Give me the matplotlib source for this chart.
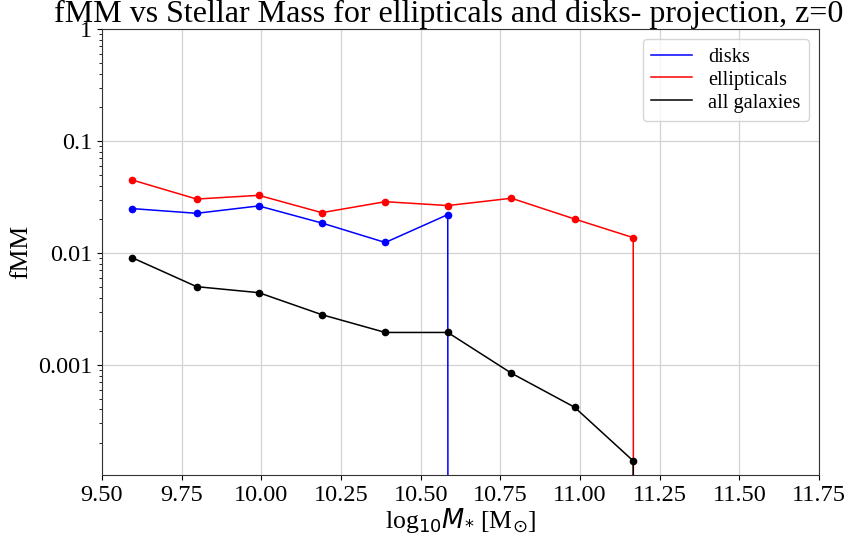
import matplotlib
matplotlib.use('Agg')
import matplotlib.pyplot as plt
import matplotlib.ticker as ticker
import numpy as np

plt.rcParams['font.family'] = ['Liberation Serif', 'DejaVu Serif']

# bin centres of log10 stellar mass
mass_bins = [9.594, 9.797, 9.992, 10.190, 10.389, 10.585, 10.785, 10.983, 11.167, 11.37]
# merger fraction per bin (0 where the bin is empty)
fmm_disks = [0.0249, 0.0226, 0.0263, 0.0185, 0.0124, 0.0220, 0, 0, 0, 0]
fmm_ellipticals = [0.0449, 0.0303, 0.0327, 0.0229, 0.0287, 0.0265, 0.0308, 0.0201, 0.0137, 0]
fmm_all = [0.00909, 0.00500, 0.00442, 0.00281, 0.00195, 0.00195, 0.000843, 0.000419, 0.000139, 0]

ytick_vals = [1, 0.1, 0.01, 0.001]
ytick_labels = ['1', '0.1', '0.01', '0.001']

fig = plt.figure(figsize=(8.48, 5.41), dpi=100)
ax = fig.add_axes([102 / 848, 1 - 475 / 541, 717 / 848, 446 / 541])

series = [(fmm_disks, 'b', 'disks'),
          (fmm_ellipticals, 'r', 'ellipticals'),
          (fmm_all, 'k', 'all galaxies')]
for vals, col, name in series:
    ax.plot(mass_bins, vals, color=col, lw=1.1, label=name)
    ax.plot(mass_bins, vals, color=col, marker='o', ms=4.5, ls='none')

ax.set_yscale('log')
ax.set_xlim(9.5, 11.75)
ax.set_ylim(1.04e-4, 1)
ax.set_xticks(np.arange(9.5, 11.76, 0.25))
ax.set_xticklabels([f'{v:.2f}' for v in np.arange(9.5, 11.76, 0.25)])
ax.set_yticks(ytick_vals)
ax.set_yticklabels(ytick_labels)
ax.yaxis.set_minor_formatter(ticker.NullFormatter())
ax.tick_params(labelsize=17.5)
ax.grid(True, which='major', color='#d3d3d3', lw=0.9)
for sp in ax.spines.values():
    sp.set_color('#333333')

ax.set_xlabel(r'log$_{10}M_{*}$ [M$_{\odot}$]', fontsize=18.5, labelpad=0)
ax.set_ylabel('fMM', fontsize=18.5)
ax.set_title('fMM vs Stellar Mass for ellipticals and disks- projection, z=0',
             fontsize=23, pad=0, x=0.484)
ax.legend(loc='upper right', fontsize=14.7, labelspacing=0.18)

fig.savefig('out.png', dpi=100)
